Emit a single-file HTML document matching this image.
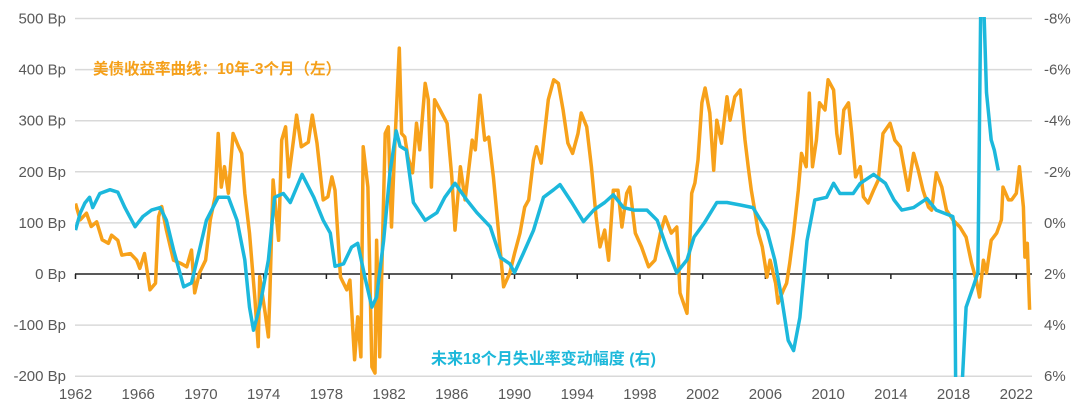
<!DOCTYPE html>
<html><head><meta charset="utf-8"><style>
html,body{margin:0;padding:0;background:#fff;}
svg{display:block;font-family:"Liberation Sans","Noto Sans CJK SC",sans-serif;}
</style></head><body>
<svg id="chart" width="1080" height="411" viewBox="0 0 1080 411" xmlns="http://www.w3.org/2000/svg">
<defs><clipPath id="plotclip"><rect x="75" y="17" width="960" height="360"/></clipPath></defs>
<g id="grid"></g>
<g id="axes"></g>
<g id="series" clip-path="url(#plotclip)"></g>
<text x="93" y="74" fill="#F5A01A" font-size="15.5" font-weight="bold">美债收益率曲线：10年-3个月（左）</text>
<text x="431" y="364" fill="#1DB8DA" font-size="16" font-weight="bold">未来18个月失业率变动幅度 (右)</text>
</svg>
<script>
const leftTicks = [500,400,300,200,100,0,-100,-200];
const rightTickLabels = ["-8%","-6%","-4%","-2%","0%","2%","4%","6%"];
const xTickYears = [1962,1966,1970,1974,1978,1982,1986,1990,1994,1998,2002,2006,2010,2014,2018,2022];

const spreadYears = [1962.0,1962.3,1962.7,1963.0,1963.35,1963.7,1964.1,1964.3,1964.7,1964.95,1965.5,1965.9,1966.1,1966.4,1966.75,1967.1,1967.3,1967.5,1967.8,1968.25,1968.7,1969.1,1969.4,1969.6,1969.9,1970.3,1970.6,1970.9,1971.1,1971.3,1971.5,1971.75,1972.05,1972.4,1972.6,1972.8,1973.1,1973.45,1973.65,1973.75,1974.1,1974.3,1974.4,1974.6,1974.95,1975.15,1975.4,1975.6,1975.9,1976.1,1976.4,1976.85,1977.1,1977.4,1977.8,1978.1,1978.35,1978.55,1978.9,1979.3,1979.5,1979.8,1980.0,1980.2,1980.35,1980.65,1980.9,1981.1,1981.2,1981.4,1981.75,1981.95,1982.15,1982.35,1982.65,1982.8,1983.0,1983.2,1983.5,1983.75,1983.95,1984.3,1984.5,1984.7,1984.9,1985.25,1985.7,1986.0,1986.2,1986.55,1986.85,1987.3,1987.5,1987.8,1988.1,1988.35,1988.65,1988.95,1989.3,1989.7,1990.0,1990.35,1990.65,1990.9,1991.2,1991.4,1991.7,1992.15,1992.5,1992.8,1993.1,1993.4,1993.7,1994.05,1994.25,1994.6,1994.9,1995.2,1995.45,1995.75,1996.0,1996.3,1996.6,1996.85,1997.15,1997.35,1997.7,1998.1,1998.55,1998.95,1999.3,1999.6,2000.0,2000.35,2000.55,2001.0,2001.3,2001.5,2001.7,2001.95,2002.15,2002.45,2002.7,2002.9,2003.2,2003.55,2003.75,2004.05,2004.4,2004.7,2004.9,2005.1,2005.35,2005.55,2005.8,2006.1,2006.3,2006.65,2006.8,2007.15,2007.35,2007.55,2007.8,2008.1,2008.3,2008.6,2008.8,2009.0,2009.25,2009.45,2009.8,2010.0,2010.35,2010.55,2010.75,2011.0,2011.3,2011.5,2011.75,2012.05,2012.25,2012.55,2012.9,2013.2,2013.5,2013.95,2014.25,2014.6,2014.9,2015.1,2015.45,2015.75,2016.05,2016.4,2016.6,2016.9,2017.25,2017.55,2017.95,2018.4,2018.8,2019.15,2019.45,2019.65,2019.9,2020.1,2020.4,2020.75,2021.05,2021.15,2021.5,2021.7,2022.0,2022.2,2022.45,2022.55,2022.7,2022.85];
const spreadBp = [138,106,119,93,102,67,60,76,66,37,40,27,11,40,-31,-18,112,132,86,27,21,14,47,-37,2,27,106,151,275,170,210,158,275,249,236,158,80,-51,-142,-5,-77,-123,-37,184,66,262,288,190,262,311,249,258,311,256,145,151,190,164,-6,-31,-12,-168,-84,-162,249,170,-182,-194,66,-162,275,288,92,243,442,275,268,229,198,295,243,373,341,170,341,321,295,190,86,210,145,262,243,350,262,268,190,92,-25,2,40,80,131,145,223,249,217,341,380,373,321,256,236,275,315,288,210,112,53,86,27,164,164,92,158,170,80,53,14,27,80,112,80,92,-37,-77,158,178,223,335,364,315,203,301,256,347,301,347,360,262,210,164,119,80,53,-6,27,-18,-57,-31,-18,21,80,164,236,210,354,210,262,335,321,380,360,275,236,321,335,275,190,210,151,139,164,184,275,295,262,249,198,164,236,203,164,131,125,198,170,125,106,92,72,21,-12,-45,27,2,66,80,106,170,145,145,158,210,131,33,60,-70];

const unempYears = [1962.0,1962.3,1962.6,1962.9,1963.1,1963.55,1964.2,1964.7,1965.15,1965.8,1966.3,1966.85,1967.4,1967.8,1968.25,1968.9,1969.4,1969.85,1970.35,1971.1,1971.75,1972.3,1972.8,1973.1,1973.35,1973.75,1974.3,1974.7,1975.25,1975.7,1976.45,1977.2,1977.8,1978.25,1978.55,1979.1,1979.6,1980.0,1980.45,1980.9,1981.2,1981.65,1982.05,1982.45,1982.7,1983.1,1983.55,1984.3,1985.05,1985.55,1986.2,1986.95,1987.6,1988.45,1989.1,1989.7,1990.0,1990.55,1991.2,1991.85,1992.5,1992.9,1993.65,1994.4,1995.05,1995.75,1996.3,1996.95,1997.6,1998.45,1999.1,1999.7,2000.35,2001.0,2001.45,2002.1,2002.9,2003.55,2004.4,2005.2,2006.1,2006.6,2007.05,2007.45,2007.8,2008.2,2008.65,2009.15,2009.9,2010.35,2010.75,2011.6,2012.05,2012.9,2013.65,2014.2,2014.7,2015.45,2016.3,2016.9,2017.95,2018.05,2018.15,2018.45,2018.8,2019.25,2019.55,2019.75,2019.9,2020.1,2020.4,2020.6,2020.85];
const unempPct = [0.28,-0.38,-0.78,-1.0,-0.6,-1.15,-1.3,-1.2,-0.6,0.15,-0.25,-0.5,-0.6,-0.1,1.05,2.5,2.35,1.2,-0.1,-1.0,-1.0,-0.1,1.45,3.3,4.2,3.3,1.45,-1.0,-1.15,-0.8,-1.9,-1.0,-0.1,0.4,1.7,1.6,0.95,0.8,2.1,3.3,2.9,0.7,-1.95,-3.6,-3.0,-2.85,-0.8,-0.1,-0.4,-1.0,-1.55,-0.9,-0.4,0.15,1.35,1.6,1.95,1.2,0.3,-1.0,-1.3,-1.5,-0.8,-0.05,-0.5,-0.8,-1.1,-0.6,-0.5,-0.5,-0.1,0.95,1.95,1.45,0.55,0.0,-0.8,-0.8,-0.7,-0.6,0.3,1.45,3.0,4.6,5.0,3.7,0.7,-0.9,-1.0,-1.55,-1.15,-1.15,-1.55,-1.9,-1.55,-0.9,-0.5,-0.6,-0.95,-0.5,-0.25,0.15,7.5,7.5,3.3,2.5,1.95,-9.5,-9,-5.1,-3.25,-2.85,-2.05];

const NS="http://www.w3.org/2000/svg";
function xScale(yr){return 75.5+(yr-1962)*15.68;}
function yLeft(v){return 274-v*0.511;}
function yRight(p){return yLeft(100-50*p);}
function mk(tag,attrs,parent){const e=document.createElementNS(NS,tag);for(const k in attrs)e.setAttribute(k,attrs[k]);parent.appendChild(e);return e;}
const grid=document.getElementById('grid'),axes=document.getElementById('axes'),series=document.getElementById('series');

leftTicks.forEach((v,i)=>{
  const y=yLeft(v);
  if(v!==0){const g=mk('line',{x1:75,x2:1032,y1:y,y2:y,stroke:'#d9d9d9','stroke-width':1.5},grid);
  
  }
  const t=mk('text',{x:66,y:y+5,'text-anchor':'end','font-size':15,fill:'#595959'},axes);
  t.textContent=v+' Bp';
  
  
  const r=mk('text',{x:1044,y:y+5,'font-size':15,fill:'#595959'},axes);
  r.textContent=rightTickLabels[i];
  
  
});
const zl=mk('line',{x1:75,x2:1032,y1:yLeft(0),y2:yLeft(0),stroke:'#222','stroke-width':1.6},axes);


xTickYears.forEach(yr=>{
  const x=xScale(yr);
  const tk=mk('line',{x1:x,x2:x,y1:yLeft(0),y2:yLeft(0)+5,stroke:'#222','stroke-width':1.5},axes);
  
  
  const t=mk('text',{x:x,y:399,'text-anchor':'middle','font-size':15,fill:'#595959'},axes);
  t.textContent=yr;
  
  
});
const oPts=spreadYears.map((yr,i)=>xScale(yr).toFixed(1)+','+yLeft(spreadBp[i]).toFixed(1)).join(' ');
const ol=mk('polyline',{points:oPts,fill:'none',stroke:'#F7A11A','stroke-width':3.5,'stroke-linejoin':'round'},series);


const bPts=unempYears.map((yr,i)=>xScale(yr).toFixed(1)+','+yRight(unempPct[i]).toFixed(1)).join(' ');
const bl=mk('polyline',{points:bPts,fill:'none',stroke:'#1CB8DC','stroke-width':3.5,'stroke-linejoin':'round'},series);


</script>
</body></html>
